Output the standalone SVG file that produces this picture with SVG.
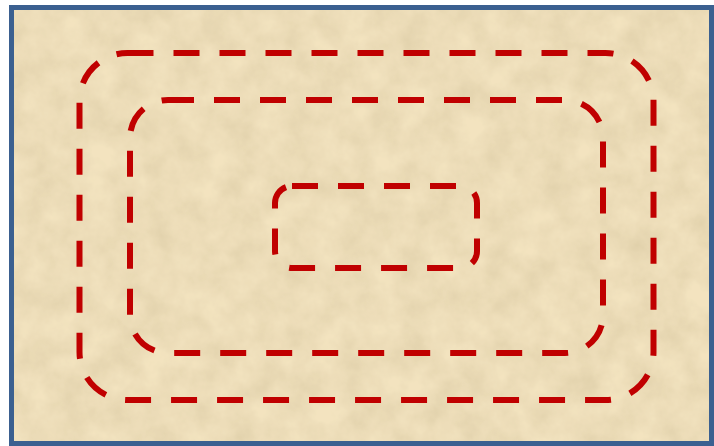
<svg xmlns="http://www.w3.org/2000/svg" width="714" height="446" viewBox="0 0 714 446">
  <defs>
    <filter id="paper" x="0" y="0" width="100%" height="100%">
      <feTurbulence type="fractalNoise" baseFrequency="0.035" numOctaves="4" seed="3" result="n"/>
      <feColorMatrix in="n" type="matrix" values="0 0 0 0 0.55  0 0 0 0 0.45  0 0 0 0 0.25  0 0 0 0.55 -0.12" result="c"/>
      <feComposite in="c" in2="SourceGraphic" operator="in" result="t"/>
      <feMerge><feMergeNode in="SourceGraphic"/><feMergeNode in="t"/></feMerge>
    </filter>
    <style>
      .ring { fill: none; stroke: #C00000; stroke-width: 6; stroke-dasharray: 26 20; }
    </style>
  </defs>
  <rect width="714" height="446" fill="#ffffff"/>
  <g id="background">
    <rect x="11.5" y="7.5" width="700" height="436" fill="#F3E3BF" filter="url(#paper)"/>
    <rect x="11.5" y="7.5" width="700" height="436" fill="none" stroke="#3B6090" stroke-width="5"/>
  </g>
  <g id="outer-zone">
    <rect class="ring" x="79.5" y="53" width="574" height="347" rx="48" ry="48"/>
  </g>
  <g id="middle-zone">
    <rect class="ring" x="130" y="100" width="473" height="253" rx="38" ry="38"/>
  </g>
  <g id="inner-zone">
    <rect class="ring" x="275" y="186" width="202" height="82" rx="17" ry="17"/>
  </g>
  <g id="connectors"/>
</svg>
